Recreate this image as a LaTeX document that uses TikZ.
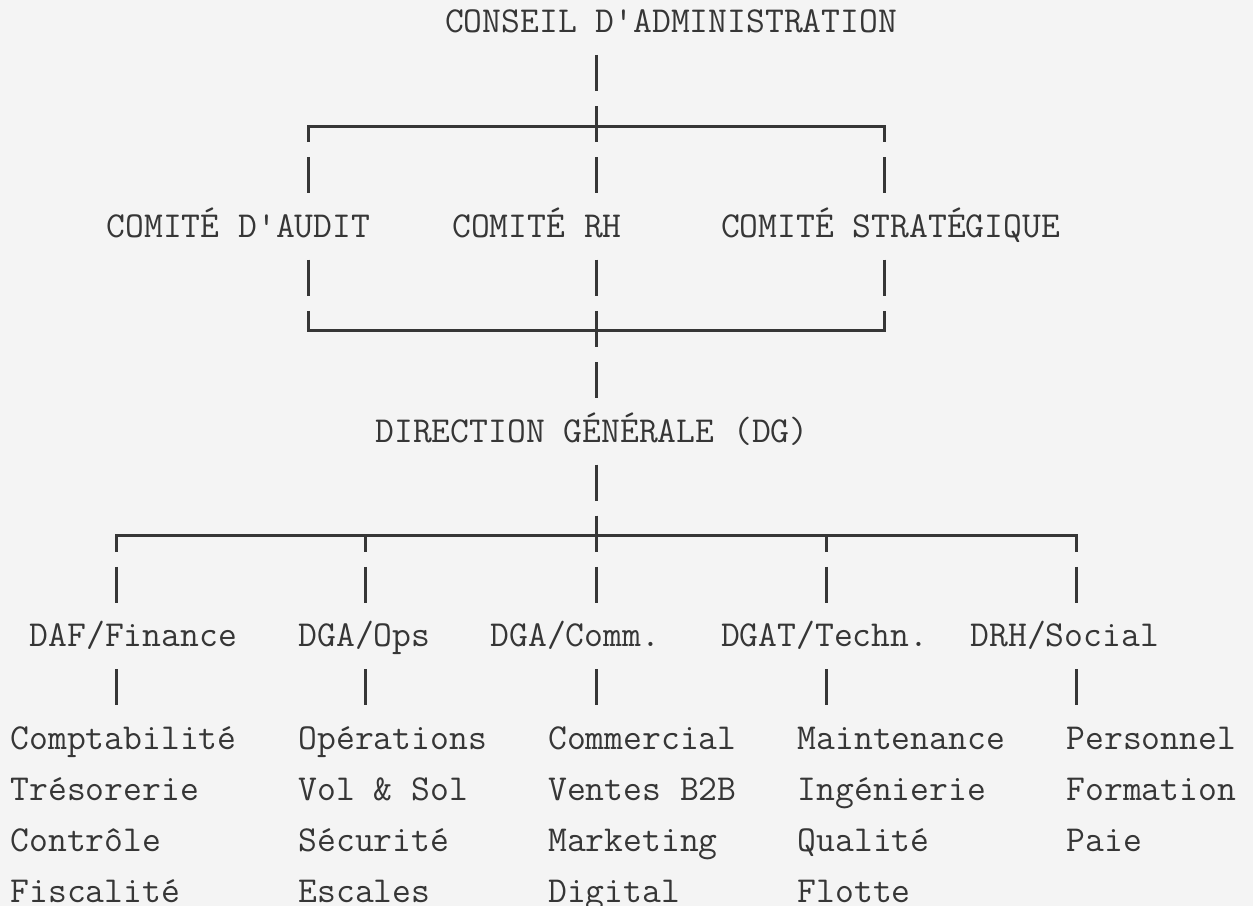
\documentclass[tikz,border=0pt]{standalone}
\definecolor{bgc}{HTML}{F4F4F4}
\definecolor{ink}{HTML}{363636}
\tikzset{
  lbl/.style={anchor=base west, inner sep=0pt, outer sep=0pt, text=ink,
    font=\ttfamily\fontsize{27.43pt}{30pt}\selectfont},
  rule/.style={draw=ink, line width=2.25pt},
  vbar/.style={rule, dash pattern=on 27pt off 11.4pt},
}
\begin{document}
\begin{tikzpicture}[x=0.75pt,y=-0.75pt]
\fill[bgc] (0,0) rectangle (1253,906);
\useasboundingbox (0,0) rectangle (1253,906);

% ---- texts ----
\node[lbl] (ca) at (445,32.5) {CONSEIL D'ADMINISTRATION};
\node[lbl] (audit) at (106.6,237.3) {COMITÉ D'AUDIT};
\node[lbl] (rh) at (452.2,237.3) {COMITÉ RH};
\node[lbl] (strat) at (721.0,237.3) {COMITÉ STRATÉGIQUE};
\node[lbl] (dg) at (375.4,442.1) {DIRECTION GÉNÉRALE (DG)};
\node[lbl] (daf) at (29.8,646.9) {DAF/Finance};
\node[lbl] (ops) at (298.6,646.9) {DGA/Ops};
\node[lbl] (comm) at (490.6,646.9) {DGA/Comm.};
\node[lbl] (tech) at (721.0,646.9) {DGAT/Techn.};
\node[lbl] (drh) at (970.6,646.9) {DRH/Social};

\node[lbl] (f1) at (10.6,749.3) {Comptabilité};
\node[lbl] (f2) at (10.6,800.5) {Trésorerie};
\node[lbl] (f3) at (10.6,851.7) {Contrôle};
\node[lbl] (f4) at (10.6,902.9) {Fiscalité};
\node[lbl] (o1) at (298.6,749.3) {Opérations};
\node[lbl] (o2) at (298.6,800.5) {Vol \& Sol};
\node[lbl] (o3) at (298.6,851.7) {Sécurité};
\node[lbl] (o4) at (298.6,902.9) {Escales};
\node[lbl] (c1) at (548.2,749.3) {Commercial};
\node[lbl] (c2) at (548.2,800.5) {Ventes B2B};
\node[lbl] (c3) at (548.2,851.7) {Marketing};
\node[lbl] (c4) at (548.2,902.9) {Digital};
\node[lbl] (t1) at (797.8,749.3) {Maintenance};
\node[lbl] (t2) at (797.8,800.5) {Ingénierie};
\node[lbl] (t3) at (797.8,851.7) {Qualité};
\node[lbl] (t4) at (797.8,902.9) {Flotte};
\node[lbl] (p1) at (1066.6,749.3) {Personnel};
\node[lbl] (p2) at (1066.6,800.5) {Formation};
\node[lbl] (p3) at (1066.6,851.7) {Paie};

% ---- grid coordinates of the connectors ----
\coordinate (trunkA) at (596.2,54.9);
\coordinate (trunkAe) at (596.2,193.3);
\coordinate (trunkB) at (596.2,259.7);
\coordinate (trunkBe) at (596.2,398.1);
\coordinate (trunkC) at (596.2,464.5);
\coordinate (trunkCe) at (596.2,602.9);
\coordinate (trunkD) at (596.2,669.3);
\coordinate (trunkDe) at (596.2,705.3);

% top bracket (committees)
\coordinate (tbL) at (308.2,126.1);
\coordinate (tbR) at (884.2,126.1);
% bottom bracket (committees)
\coordinate (bbL) at (308.2,330.9);
\coordinate (bbR) at (884.2,330.9);
% bracket of the directions
\coordinate (dbL) at (116.2,535.7);
\coordinate (dbR) at (1076.2,535.7);
\coordinate (dbA) at (365.8,535.7);
\coordinate (dbB) at (826.6,535.7);

% ---- connectors ----
\draw[vbar] (trunkA) -- (trunkAe);
\draw[vbar] (trunkB) -- (trunkBe);
\draw[vbar] (trunkC) -- (trunkCe);
\draw[rule] (trunkD) -- (trunkDe);

\draw[rule] ([yshift=-12pt]tbL) -- (tbL) -- (tbR) -- ([yshift=-12pt]tbR);
\draw[rule] ([yshift=-23.4pt]tbL) -- ([yshift=-50.4pt]tbL);
\draw[rule] ([yshift=-23.4pt]tbR) -- ([yshift=-50.4pt]tbR);

\draw[rule] ([yshift=53.4pt]bbL) -- ([yshift=26.4pt]bbL);
\draw[rule] ([yshift=53.4pt]bbR) -- ([yshift=26.4pt]bbR);
\draw[rule] ([yshift=15pt]bbL) -- (bbL) -- (bbR) -- ([yshift=15pt]bbR);

\draw[rule] ([yshift=-12pt]dbL) -- (dbL) -- (dbR) -- ([yshift=-12pt]dbR);
\draw[rule] (dbA) -- ([yshift=-12pt]dbA);
\draw[rule] (dbB) -- ([yshift=-12pt]dbB);
\foreach \c in {dbL,dbA,dbB,dbR}{
  \draw[rule] ([yshift=-23.4pt]\c) -- ([yshift=-50.4pt]\c);
  \draw[rule] ([yshift=-100.2pt]\c) -- ([yshift=-127.2pt]\c);
}
\end{tikzpicture}
\end{document}
